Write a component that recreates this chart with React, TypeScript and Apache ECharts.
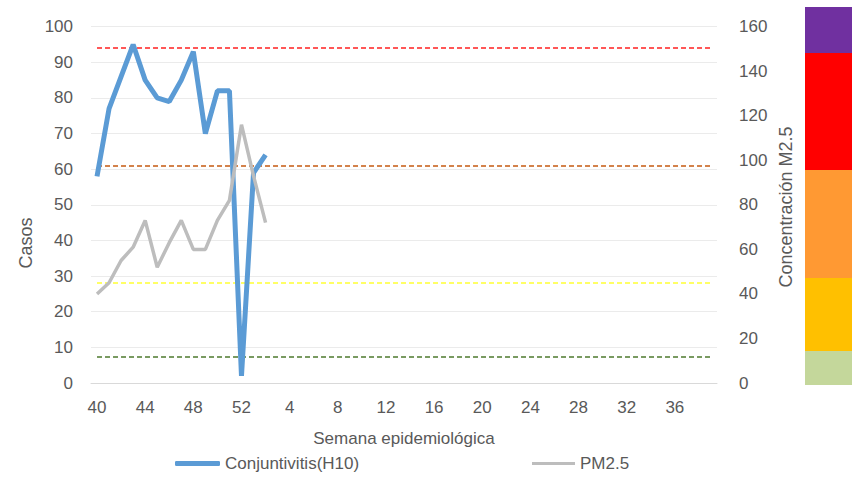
import React, { useEffect, useRef } from "react";
import * as echarts from "echarts";

const weeks: string[] = [
  "40","41","42","43","44","45","46","47","48","49","50","51","52",
  "1","2","3","4","5","6","7","8","9","10","11","12","13","14","15","16","17","18","19","20",
  "21","22","23","24","25","26","27","28","29","30","31","32","33","34","35","36","37","38","39",
];
const casos: (number | null)[] = [58, 77, 86, 95, 85, 80, 79, 85, 93, 70, 82, 82, 2, 59, 64];
const pm25: (number | null)[] = [40, 45, 55, 61, 73, 52, 63, 73, 60, 60, 73, 82, 116, 93, 72];
const thresholds: number[] = [12, 45, 97.4, 150.4];
const thresholdColors: string[] = ["#4E7A2E", "#FFFF33", "#C55A11", "#FF2020"];
const bandColors: string[] = ["#7030A0", "#FF0000", "#FF9933", "#FFC000", "#C4D79B"];
const bandEdges: number[] = [7, 53, 170, 278, 351, 385];

const FONT = "Liberation Sans";
const TXT = "#595959";

export default function App() {
  const ref = useRef<HTMLDivElement>(null);
  useEffect(() => {
    if (!ref.current) return;
    const chart = echarts.init(ref.current, undefined, { renderer: "svg" });
    const last = weeks[weeks.length - 1];
    const markData = thresholds.map((t, i) => [
      { xAxis: weeks[0], yAxis: t, lineStyle: { color: thresholdColors[i] } },
      { xAxis: last, yAxis: t },
    ]);
    const bands = bandColors.map((c, i) => ({
      type: "rect",
      shape: { x: 805, y: bandEdges[i], width: 47, height: bandEdges[i + 1] - bandEdges[i] },
      style: { fill: c },
      silent: true,
    }));
    chart.setOption({
      animation: false,
      backgroundColor: "#FFFFFF",
      textStyle: { fontFamily: FONT },
      grid: { left: 91, right: 142, top: 26.7, bottom: 96 },
      xAxis: {
        type: "category",
        data: weeks,
        boundaryGap: true,
        axisLine: { lineStyle: { color: "#D9D9D9", width: 1 } },
        axisTick: { show: false },
        axisLabel: { interval: 3, color: TXT, fontSize: 17, margin: 16, fontFamily: FONT },
        name: "Semana epidemiológica",
        nameLocation: "middle",
        nameGap: 47,
        nameTextStyle: { color: TXT, fontSize: 17, fontFamily: FONT, verticalAlign: "top" },
        splitLine: { show: false },
      },
      yAxis: [
        {
          type: "value",
          min: 0,
          max: 100,
          interval: 10,
          axisLine: { show: false },
          axisTick: { show: false },
          axisLabel: { color: TXT, fontSize: 17, margin: 18, fontFamily: FONT },
          splitLine: { lineStyle: { color: "#EBEBEB", width: 1 } },
        },
        {
          type: "value",
          min: 0,
          max: 160,
          interval: 20,
          position: "right",
          axisLine: { show: false },
          axisTick: { show: false },
          axisLabel: { color: TXT, fontSize: 17, margin: 22, fontFamily: FONT },
          splitLine: { show: false },
        },
      ],
      legend: [
        {
          data: [{ name: "Conjuntivitis(H10)", icon: "roundRect" }],
          left: 175,
          top: 455,
          padding: 0,
          itemWidth: 45,
          itemHeight: 5,
          textStyle: { color: TXT, fontSize: 17, fontFamily: FONT },
        },
        {
          data: [{ name: "PM2.5", icon: "rect" }],
          left: 532,
          top: 455,
          padding: 0,
          itemWidth: 43,
          itemHeight: 3,
          textStyle: { color: TXT, fontSize: 17, fontFamily: FONT },
        },
      ],
      graphic: [
        {
          type: "text",
          x: 26,
          y: 243,
          rotation: Math.PI / 2,
          style: {
            text: "Casos",
            fill: TXT,
            font: `18px '${FONT}'`,
            align: "center",
            verticalAlign: "middle",
          },
        },
        {
          type: "text",
          x: 786,
          y: 207,
          rotation: Math.PI / 2,
          style: {
            text: "Concentración M2.5",
            fill: TXT,
            font: `18px '${FONT}'`,
            align: "center",
            verticalAlign: "middle",
          },
        },
        ...bands,
      ],
      series: [
        {
          name: "Conjuntivitis(H10)",
          type: "line",
          data: casos,
          yAxisIndex: 0,
          symbol: "none",
          lineStyle: { color: "#5B9BD5", width: 5 },
          itemStyle: { color: "#5B9BD5" },
          z: 3,
        },
        {
          name: "PM2.5",
          type: "line",
          data: pm25,
          yAxisIndex: 1,
          symbol: "none",
          lineStyle: { color: "#BDBDBD", width: 3.5 },
          itemStyle: { color: "#BDBDBD" },
          z: 4,
          markLine: {
            silent: true,
            symbol: ["none", "none"],
            label: { show: false },
            lineStyle: { type: [5, 3], width: 1.5 },
            data: markData,
            z: 2,
          },
        },
      ],
    });
    return () => chart.dispose();
  }, []);
  return <div ref={ref} style={{ width: 859, height: 479, position: "absolute", left: 0, top: 0 }} />;
}
